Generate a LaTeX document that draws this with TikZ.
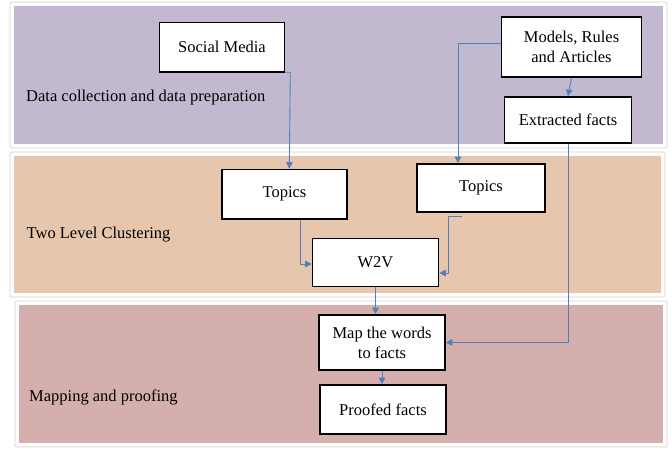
\documentclass[tikz,border=0pt]{standalone}
\usepackage{fontspec}
\setmainfont{Liberation Serif}
\usetikzlibrary{arrows.meta}
\definecolor{panelA}{RGB}{194,184,208}
\definecolor{panelB}{RGB}{231,198,174}
\definecolor{panelC}{RGB}{213,174,174}
\definecolor{conn}{RGB}{79,129,189}
\tikzset{
  frame/.style={fill=white,draw=black!18,line width=0.8pt,rounded corners=1.5pt},
  procbox/.style={draw=black,fill=white,line width=1.6pt,align=center,inner sep=0pt,
    font=\fontsize{16.5}{20}\selectfont},
  lbl/.style={anchor=west,inner sep=0pt,font=\fontsize{16.5}{20}\selectfont},
  link/.style={draw=conn,line width=0.9pt},
  arr/.style={link,-{Triangle[width=6.5pt,length=6.5pt]}}
}
\begin{document}
\begin{tikzpicture}[x=1pt,y=-1pt]
\useasboundingbox (0,0) rectangle (672,449);
% panels
\draw[frame] (10,2) rectangle (667,148);
\fill[panelA] (14,6) rectangle (663,144);
\draw[frame] (10,152) rectangle (665,297);
\fill[panelB] (14,156) rectangle (661,293);
\draw[frame] (15,301) rectangle (667,447);
\fill[panelC] (19,305) rectangle (663,443);
% labels
\node[lbl] (l1) at (26,98) {Data collection and data preparation};
\node[lbl] (l2) at (26.5,235) {Two Level Clustering};
\node[lbl] (l3) at (29,397) {Mapping and proofing};
% boxes
\node[procbox,minimum width=125pt,minimum height=49pt] (sm) at (222,47) {Social Media};
\node[procbox,minimum width=140pt,minimum height=60pt] (mr) at (571.5,47) {Models, Rules\\and Articles};
\node[procbox,minimum width=127pt,minimum height=46pt] (ef) at (568,120) {Extracted facts};
\node[procbox,minimum width=125pt,minimum height=49pt] (t1) at (284.5,194) {Topics};
\node[procbox,minimum width=128pt,minimum height=48pt] (t2) at (481,188) {Topics};
\node[procbox,minimum width=126pt,minimum height=48pt] (w2v) at (375.5,262.5) {W2V};
\node[procbox,minimum width=126pt,minimum height=55pt] (map) at (382,342.5) {Map the words\\to facts};
\node[procbox,minimum width=126pt,minimum height=49pt] (pf) at (383,409.5) {Proofed facts};
% connectors
\draw[arr] ([xshift=-25pt]sm.south) -- ([xshift=5pt]sm.south east) -- ([xshift=4.8pt]t1.north);
\draw[arr] ([yshift=4pt]mr.west) -| ([xshift=-23pt]t2.north);
\draw[arr] (mr.south) -- (ef.north);
\draw[arr] ([xshift=2.5pt]t1.south) -| ([xshift=-11pt,yshift=-1.5pt]w2v.west) -- ([yshift=-1.5pt]w2v.west);
\draw[arr] ([xshift=-19pt,yshift=-4pt]t2.south) -| ([xshift=9pt,yshift=-10.5pt]w2v.east) -- ([yshift=-10.5pt]w2v.east);
\draw[arr] (w2v.south) -- (w2v.south |- map.north);
\draw[arr] (ef.south) |- (map.east);
\draw[arr] (map.south) -- (map.south |- pf.north);
% redraw box borders above connector starts
\foreach \n in {sm,t1} {\draw[black,line width=1.6pt] (\n.south west) -- (\n.south east);}
\end{tikzpicture}
\end{document}
